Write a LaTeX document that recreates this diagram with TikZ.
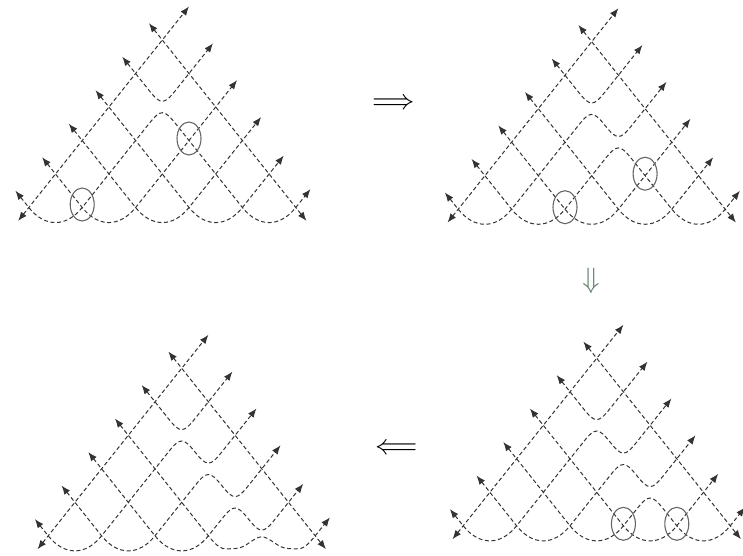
\documentclass[tikz,border=0pt]{standalone}
\usepackage{unicode-math}
\usetikzlibrary{arrows.meta}
\usepackage{xcolor}
\definecolor{downgreen}{RGB}{96,128,108}

\begin{document}
\begin{tikzpicture}[
  x=26.7pt, y=33.5pt,
  strand/.style={draw=black!80, line width=1pt,
    dash pattern=on 4pt off 2.6pt,
    {Latex[length=9pt,width=7pt]}-{Latex[length=9pt,width=7pt]}},
  ring/.style={draw=black!60, line width=1.1pt},
  arrowsym/.style={font=\fontsize{29}{30}\selectfont, inner sep=0pt},
  dip/.style={to path={-- ([shift={(-.5,.5)}]\tikztotarget)
    .. controls +(.44,-.44) and +(-.44,-.44) .. ([shift={(.5,.5)}]\tikztotarget)}},
  rise/.style={to path={-- ([shift={(-.5,-.5)}]\tikztotarget)
    .. controls +(.44,.44) and +(-.44,.44) .. ([shift={(.5,-.5)}]\tikztotarget)}},
  low/.style={to path={.. controls +(.6,-.6) and +(-.6,-.6) .. (\tikztotarget)}}
]
  \useasboundingbox (0pt,0pt) rectangle (743pt,-555pt);

  % Lattice points and arrow ends of the four triangles.
  \foreach \pn/\ax/\ay in {a/162.3/40, b/591.7/41.7, c/596.7/358.3, d/181.7/368.3} {
    \begin{scope}[shift={(\ax pt,-\ay pt)}]
      \foreach \r/\l [evaluate=\r as \q using int(\r-1)] in
          {1/1.0, 2/0.9, 3/0.8, 4/0.7, 5/0.55, 6/0.55} {
        \foreach \p in {0,...,\q}
          \coordinate (\pn\r\p) at (2*\p-\q, -\q);
        \coordinate (\pn L\r) at (-\q-0.5, -\q+0.5);
        \coordinate (\pn R\r) at (\q+\l, -\q+\l);
      }
      \coordinate (\pn BL) at (-5.4,-5.4);
      \coordinate (\pn BR) at (5.4,-5.4);
    \end{scope}
  }

  % Strands that are the same in every triangle.
  \foreach \pn in {a,b,c,d} {
    \draw[strand] (\pn BL) -- (\pn R1);
    \draw[strand] (\pn L1) -- (\pn BR);
    \draw[strand] (\pn L2) -- (\pn20) to[dip] (\pn31) -- (\pn R2);
  }

  % First triangle.
  \draw[strand] (aL3) -- (a63) to[low] (a64) -- (aR5);
  \draw[strand] (aL4) -- (a62) to[low] (a63) -- (aR4);
  \draw[strand] (aL5) -- (a61) to[low] (a62) -- (aR3);
  \draw[strand] (aL6) -- (a60) to[low] (a61) -- (a41) to[rise] (a31)
    -- (a64) to[low] (a65) -- (aR6);
  \draw[ring] ([yshift=2pt]a42) ellipse [x radius=12pt, y radius=16.5pt];
  \draw[ring] ([yshift=3pt]a61) ellipse [x radius=12pt, y radius=16.5pt];

  % Second triangle.
  \draw[strand] (bL3) -- (b63) to[low] (b64) -- (bR5);
  \draw[strand] (bL4) -- (b62) to[low] (b63) -- (bR4);
  \draw[strand] (bL5) -- (b61) to[low] (b62) -- (b52) to[rise] (b42)
    -- (b64) to[low] (b65) -- (bR6);
  \draw[strand] (bL6) -- (b60) to[low] (b61) -- (b41) to[rise] (b31)
    to[dip] (b42) -- (bR3);
  \draw[ring] ([yshift=2pt]b53) ellipse [x radius=12pt, y radius=16.5pt];
  \draw[ring] ([yshift=2pt]b62) ellipse [x radius=12pt, y radius=16.5pt];

  % Third triangle.
  \draw[strand] (cL3) -- (c63) to[low] (c64) -- (cR5);
  \draw[strand] (cL4) -- (c62) to[low] (c63) to[rise] (c53)
    -- (c64) to[low] (c65) -- (cR6);
  \draw[strand] (cL5) -- (c61) to[low] (c62) -- (c52) to[rise] (c42)
    to[dip] (c53) -- (cR4);
  \draw[strand] (cL6) -- (c60) to[low] (c61) -- (c41) to[rise] (c31)
    to[dip] (c42) -- (cR3);
  \draw[ring] ([yshift=2pt]c63) ellipse [x radius=12pt, y radius=16.5pt];
  \draw[ring] ([yshift=2pt]c64) ellipse [x radius=12pt, y radius=16.5pt];

  % Fourth triangle.
  \draw[strand] (dL3) -- (d63) .. controls +(.5,-.5) and +(-.4,0) ..
    ([shift={(1,-.38)}]d63) .. controls +(.4,0) and +(-.3,0) ..
    ([yshift=-1pt]d64) .. controls +(.3,0) and +(-.4,0) ..
    ([shift={(-1,-.38)}]d65) .. controls +(.4,0) and +(-.5,-.5) ..
    (d65) -- (dR6);
  \draw[strand] (dL4) -- (d62) to[low] (d63) to[rise] (d53)
    to[dip] (d64) -- (dR5);
  \draw[strand] (dL5) -- (d61) to[low] (d62) -- (d52) to[rise] (d42)
    to[dip] (d53) -- (dR4);
  \draw[strand] (dL6) -- (d60) to[low] (d61) -- (d41) to[rise] (d31)
    to[dip] (d42) -- (dR3);

  % Moves between the triangles.
  \node[arrowsym] (toB) at (394pt,-102pt) {$\Longrightarrow$};
  \node[arrowsym, text=downgreen] (toC) at (591pt,-281pt) {$\Downarrow$};
  \node[arrowsym] (toD) at (397pt,-447pt) {$\Longleftarrow$};
\end{tikzpicture}
\end{document}
